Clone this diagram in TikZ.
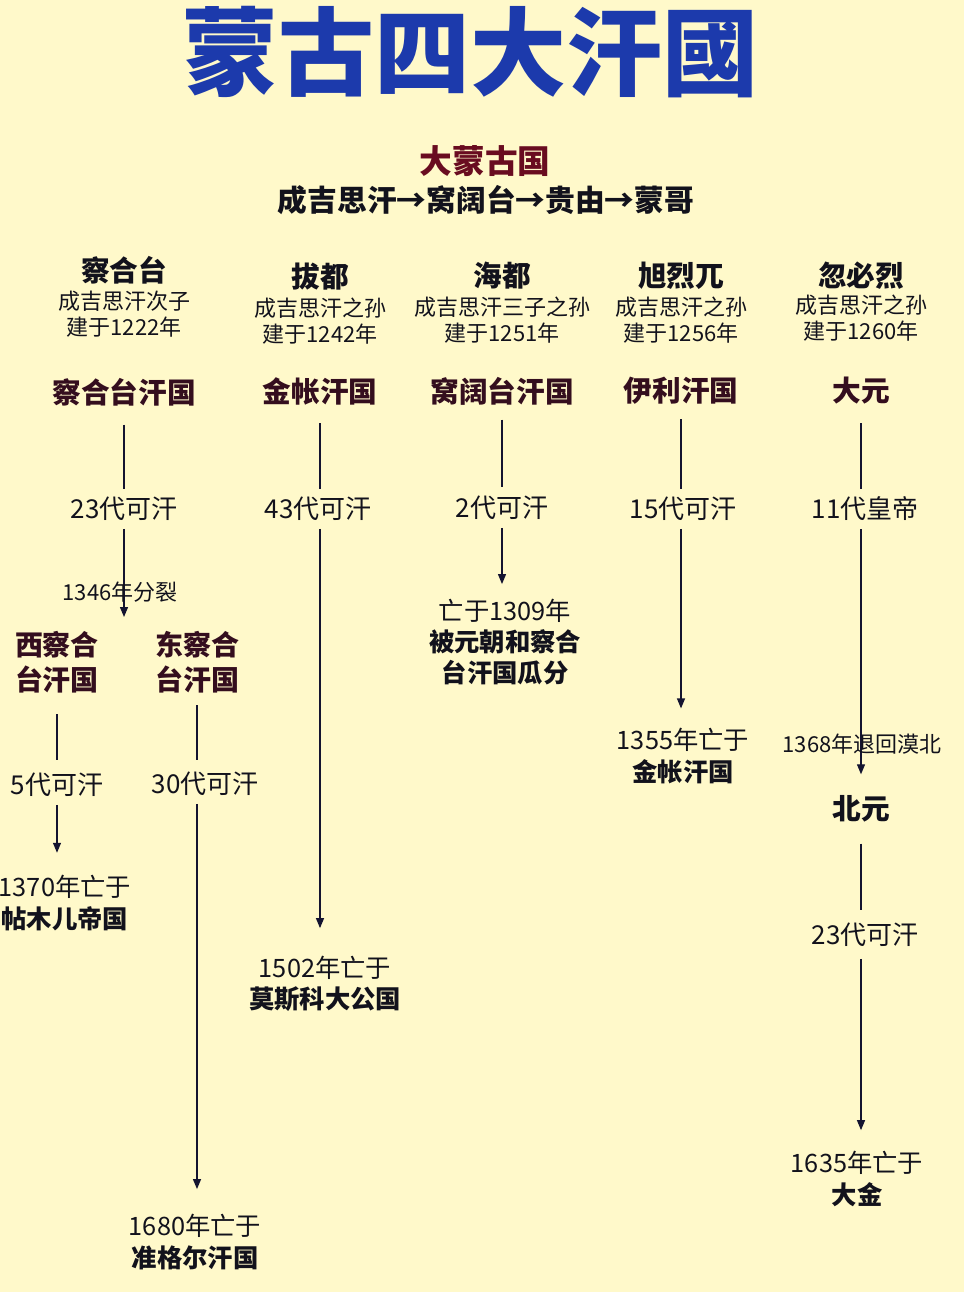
\documentclass[tikz,border=0pt]{standalone}
\usepackage{fontspec}
\setmainfont{Noto Sans CJK SC}
\usetikzlibrary{arrows.meta}
\definecolor{bg}{RGB}{255,249,202}
\definecolor{titleblue}{RGB}{28,58,172}
\definecolor{empred}{RGB}{105,12,32}
\definecolor{khanred}{RGB}{52,14,30}
\definecolor{ink}{RGB}{18,18,28}
\definecolor{lineink}{RGB}{20,20,48}
\tikzset{
  x=0.75pt, y=-0.75pt,
  every node/.style={inner sep=0pt, outer sep=0pt, text=ink},
  titletext/.style={font=\fontsize{72}{72}\selectfont\bfseries, text=titleblue},
  emptext/.style={font=\fontsize{24.5}{28}\selectfont\bfseries, text=empred},
  chaintext/.style={font=\fontsize{22.3}{26}\selectfont\bfseries},
  rulertext/.style={font=\fontsize{21.5}{24}\selectfont\bfseries},
  subtext/.style={font=\fontsize{16.5}{19.5}\selectfont, align=center},
  khantext/.style={font=\fontsize{21.5}{26}\selectfont\bfseries, text=khanred},
  gentext/.style={font=\fontsize{19.5}{23}\selectfont},
  notetext/.style={font=\fontsize{16.5}{19}\selectfont},
  splittext/.style={font=\fontsize{21}{26.5}\selectfont\bfseries, text=khanred, align=center},
  fatetext/.style={font=\fontsize{19}{23.5}\selectfont, align=center},
  conn/.style={draw=lineink, line width=0.9pt},
  arr/.style={conn, -{Triangle[length=7.5pt,width=6pt]}},
}
\begin{document}
\begin{tikzpicture}
\fill[bg] (0,0) rectangle (964,1292);
\useasboundingbox (0,0) rectangle (964,1292);

% title and empire
\node[titletext] (title) at (470,52) {蒙古四大汗國};
\node[emptext] (emp) at (485,161) {大蒙古国};
\node[chaintext] (chain) at (486,200) {成吉思汗→窝阔台→贵由→蒙哥};

% rulers
\node[rulertext] (r1) at (124,270) {察合台};
\node[subtext] (s1) at (124,314) {成吉思汗次子\\建于1222年};
\node[rulertext] (r2) at (320,277) {拔都};
\node[subtext] (s2) at (320,321) {成吉思汗之孙\\建于1242年};
\node[rulertext] (r3) at (502,276) {海都};
\node[subtext] (s3) at (502,320) {成吉思汗三子之孙\\建于1251年};
\node[rulertext] (r4) at (681,276) {旭烈兀};
\node[subtext] (s4) at (681,320) {成吉思汗之孙\\建于1256年};
\node[rulertext] (r5) at (861,276) {忽必烈};
\node[subtext] (s5) at (861,318) {成吉思汗之孙\\建于1260年};

% khanates
\node[khantext] (k1) at (124,392) {察合台汗国};
\node[khantext] (k2) at (320,391) {金帐汗国};
\node[khantext] (k3) at (502,391) {窝阔台汗国};
\node[khantext] (k4) at (681,391) {伊利汗国};
\node[khantext] (k5) at (861,391) {大元};

% generation labels
\node[gentext] (g1) at (124,509) {23代可汗};
\node[gentext] (g2) at (318,509) {43代可汗};
\node[gentext] (g3) at (502,508) {2代可汗};
\node[gentext] (g4) at (683,509) {15代可汗};
\node[gentext] (g5) at (865,509) {11代皇帝};

% column 1 split
\coordinate (sp) at (124,617);
\node[splittext] (w) at (57,662) {西察合\\台汗国};
\node[splittext] (e) at (197,662) {东察合\\台汗国};
\node[gentext] (gw) at (57,785) {5代可汗};
\node[gentext] (ge) at (205,784) {30代可汗};
\node[fatetext] (fw) at (65,903) {1370年亡于\\\textbf{帖木儿帝国}};
\node[fatetext] (fe) at (195,1242) {1680年亡于\\\textbf{准格尔汗国}};

% fates
\node[fatetext] (f2) at (325,984) {1502年亡于\\\textbf{莫斯科大公国}};
\node[fatetext] (f3) at (505,642) {亡于1309年\\\textbf{被元朝和察合}\\\textbf{台汗国瓜分}};
\node[fatetext] (f4) at (683,756) {1355年亡于\\\textbf{金帐汗国}};
\node[khantext, text=ink] (bei) at (861,809) {北元};
\node[gentext] (g6) at (865,935) {23代可汗};
\node[fatetext] (f5) at (857,1179) {1635年亡于\\\textbf{大金}};

% connectors
\draw[conn, shorten <=14pt, shorten >=6pt] (k1.south) -- (k1.south |- g1.north);
\draw[arr, shorten <=6pt] (g1.south -| sp) -- (sp);
\draw[conn, shorten <=14pt, shorten >=6pt] (k2.south) -- (k2.south |- g2.north);
\draw[arr, shorten <=6pt, shorten >=21pt] (g2.south -| k2.south) -- (k2.south |- f2.north);
\draw[conn, shorten <=11pt, shorten >=7pt] (k3.south) -- (k3.south |- g3.north);
\draw[arr, shorten <=6pt, shorten >=11pt] (g3.south -| k3.south) -- (k3.south |- f3.north);
\draw[conn, shorten <=11pt, shorten >=6pt] (k4.south) -- (k4.south |- g4.north);
\draw[arr, shorten <=6pt, shorten >=15pt] (g4.south -| k4.south) -- (k4.south |- f4.north);
\draw[conn, shorten <=14pt, shorten >=6pt] (k5.south) -- (k5.south |- g5.north);
\draw[arr, shorten <=6pt, shorten >=16pt] (g5.south -| k5.south) -- (bei.north);
\draw[conn, shorten <=16pt, shorten >=10pt] (bei.south) -- (bei.south |- g6.north);
\draw[arr, shorten <=9pt, shorten >=16pt] (g6.south -| bei.south) -- (bei.south |- f5.north);
\draw[conn, shorten <=16pt, shorten >=10pt] (w.south) -- (w.south |- gw.north);
\draw[arr, shorten <=6pt, shorten >=17pt] (gw.south) -- (gw.south |- fw.north);
\draw[conn, shorten <=9pt, shorten >=9pt] (e.south) -- (e.south |- ge.north);
\draw[arr, shorten <=6pt, shorten >=19pt] (ge.south -| e.south) -- (e.south |- fe.north);

% notes over the arrows
\node[notetext] (n1) at (120,592) {1346年分裂};
\node[notetext] (n2) at (862,744) {1368年退回漠北};
\end{tikzpicture}
\end{document}
